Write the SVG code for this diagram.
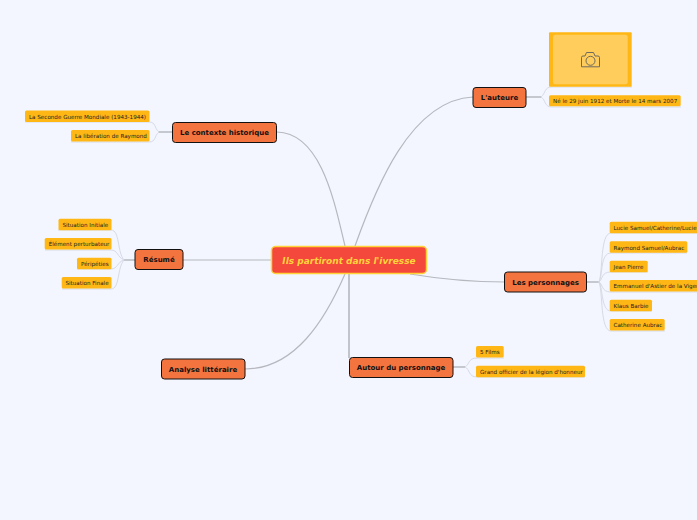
<svg xmlns="http://www.w3.org/2000/svg" width="697" height="520" viewBox="0 0 697 520">
<style>
text{font-family:"DejaVu Sans",Verdana,sans-serif}
.main{fill:none;stroke:#b6b8be;stroke-width:1.2}
.sub{fill:none;stroke:#d6dae5;stroke-width:1}
.stem{fill:none;stroke:#b6b8be;stroke-width:1.5}
.topic rect{fill:#f4743f;stroke:#111;stroke-width:1}
.topic text{font-size:7px;font-weight:bold;fill:#111;text-anchor:middle}
.leaf rect{fill:#ffb716}
.leaf text{font-size:5.6px;fill:#222;}
</style>
<rect width="697" height="520" fill="#f3f6ff"/>
<g id="connectors">
<path class="main" d="M345 246C335 205 322 133 277 132"/>
<path class="main" d="M271 260H183"/>
<path class="main" d="M345 274C325 320 295 369 245 369"/>
<path class="main" d="M349 274V358" style="stroke-width:1.600"/>
<path class="main" d="M355 246C375 190 410 100 473 97"/>
<path class="main" d="M410 274C440 279 470 282 505 282"/>
<path class="stem" d="M159 132H172"/>
<path class="stem" d="M124 260H135"/>
<path class="stem" d="M526 97H541"/>
<path class="stem" d="M587 282H600"/>
<path class="stem" d="M453 367H465"/>
<path class="sub" d="M159 132C154 128 156 122 149 122H25"/>
<path class="sub" d="M159 132C154 136 156 142 149 142H71"/>
<path class="sub" d="M124 260C117 252 120 230 111 230H58"/>
<path class="sub" d="M124 260C117 257 118 250 111 250H45"/>
<path class="sub" d="M124 260C117 262 118 269 111 269H77"/>
<path class="sub" d="M124 260C117 268 120 289 111 289H62"/>
<path class="sub" d="M541 97C546 93 544 87 552 87H632"/>
<path class="sub" d="M541 97C546 100 544 107 552 107H681"/>
<path class="sub" d="M599 282C603 272 600 233 611 233H697"/>
<path class="sub" d="M599 282C603 275 600 253 611 253H687"/>
<path class="sub" d="M599 282C603 279 601 272 611 272H648"/>
<path class="sub" d="M599 282C603 284 601 292 611 292H697"/>
<path class="sub" d="M599 282C603 288 601 311 611 311H652"/>
<path class="sub" d="M599 282C603 292 600 331 611 331H665"/>
<path class="sub" d="M465 367C470 364 468 358 477 358H504"/>
<path class="sub" d="M465 367C470 369 468 377 477 377H585"/>
</g>
<g id="central"><rect x="271.500" y="246.500" width="155" height="27" rx="4" fill="#f4483c" stroke="#ffd43b" stroke-width="1.500"/><text x="349" y="263.500" font-size="9" font-weight="bold" font-style="italic" fill="#ffd43b" text-anchor="middle">Ils partiront dans l'ivresse</text></g>
<g id="contexte" class="topic"><rect x="172.500" y="122.500" width="104" height="20" rx="3"/><text x="224.500" y="135">Le contexte historique</text></g>
<g id="resume" class="topic"><rect x="135" y="249.500" width="48" height="20" rx="3"/><text x="159" y="262">Résumé</text></g>
<g id="analyse" class="topic"><rect x="161.500" y="359" width="83.500" height="20" rx="3"/><text x="203" y="372">Analyse littéraire</text></g>
<g id="autour" class="topic"><rect x="349.500" y="357.500" width="103.500" height="20" rx="3"/><text x="401" y="370">Autour du personnage</text></g>
<g id="auteure" class="topic"><rect x="473" y="87.500" width="53" height="20" rx="3"/><text x="499.500" y="100">L'auteure</text></g>
<g id="personnages" class="topic"><rect x="504.500" y="272" width="82" height="20" rx="3"/><text x="545.500" y="285">Les personnages</text></g>
<g id="l1" class="leaf"><rect x="25" y="110.500" width="124.500" height="11.500" rx="1.500"/><text x="29" y="119">La Seconde Guerre Mondiale (1943-1944)</text></g>
<g id="l2" class="leaf"><rect x="71" y="130" width="78.500" height="11.500" rx="1.500"/><text x="75" y="138">La libération de Raymond</text></g>
<g id="l3" class="leaf"><rect x="58.500" y="218.700" width="53" height="11.500" rx="1.500"/><text x="62.500" y="227">Situation Initiale</text></g>
<g id="l4" class="leaf"><rect x="44.700" y="238" width="66.800" height="11.500" rx="1.500"/><text x="48.700" y="246.300">Élément perturbateur</text></g>
<g id="l5" class="leaf"><rect x="77" y="257.700" width="34.500" height="11.500" rx="1.500"/><text x="81" y="266">Péripéties</text></g>
<g id="l6" class="leaf"><rect x="61.700" y="277" width="49.800" height="11.500" rx="1.500"/><text x="65.500" y="285.300">Situation Finale</text></g>
<g id="photo"><rect x="549" y="32.300" width="82.700" height="54.500" rx="1" fill="#ffb716"/><rect x="553" y="34.700" width="74.700" height="49.600" rx="2.500" fill="#ffcd5c"/>
<g fill="none" stroke="#6f6a5e" stroke-width="1"><path d="M581.500 66.800V57.500q0-1.500 1.500-1.500H585l1.500-3.500h7l1.500 3.500h3q1.500 0 1.500 1.500V66.800z"/><circle cx="590.500" cy="60.800" r="4.500"/></g></g>
<g id="l7" class="leaf"><rect x="549" y="95.300" width="131.700" height="11" rx="1.500"/><text x="553" y="103.300">Né le 29 juin 1912 et Morte le 14 mars 2007</text></g>
<g id="l8" class="leaf"><rect x="609.700" y="221.700" width="100" height="11.500" rx="1.500"/><text x="613.500" y="230">Lucie Samuel/Catherine/Lucie</text></g>
<g id="l9" class="leaf"><rect x="609.700" y="241.300" width="77.600" height="11.500" rx="1.500"/><text x="613.500" y="249.500">Raymond Samuel/Aubrac</text></g>
<g id="l10" class="leaf"><rect x="609.700" y="260.700" width="38" height="11.500" rx="1.500"/><text x="613.500" y="269">Jean Pierre</text></g>
<g id="l11" class="leaf"><rect x="609.700" y="280" width="100" height="11.500" rx="1.500"/><text x="613.500" y="288.300">Emmanuel d'Astier de la Viger</text></g>
<g id="l12" class="leaf"><rect x="609.700" y="299.700" width="42.300" height="11.500" rx="1.500"/><text x="613.500" y="308">Klaus Barbie</text></g>
<g id="l13" class="leaf"><rect x="609.700" y="319" width="55" height="11.500" rx="1.500"/><text x="613.500" y="327.300">Catherine Aubrac</text></g>
<g id="l14" class="leaf"><rect x="476" y="346" width="27.700" height="11.500" rx="1.500"/><text x="480" y="354.300">5 Films</text></g>
<g id="l15" class="leaf"><rect x="476" y="365.700" width="109" height="11.500" rx="1.500"/><text x="480" y="374">Grand officier de la légion d'honneur</text></g>
</svg>
